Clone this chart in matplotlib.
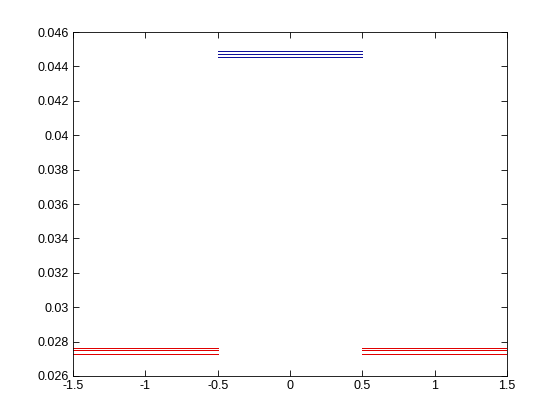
import matplotlib
matplotlib.use("Agg")
import matplotlib.pyplot as plt

# segments: (x_start, x_end) per group
red_segments = [(-1.5, -0.5), (0.5, 1.5)]
red_values = [0.02762, 0.02749, 0.02727]
blue_segments = [(-0.5, 0.5)]
blue_values = [0.04487, 0.04475, 0.04454]

xticks = [-1.5, -1, -0.5, 0, 0.5, 1, 1.5]
xtick_labels = ["-1.5", "-1", "-0.5", "0", "0.5", "1", "1.5"]
yticks = [0.026, 0.028, 0.03, 0.032, 0.034, 0.036, 0.038, 0.04, 0.042, 0.044, 0.046]
ytick_labels = ["0.026", "0.028", "0.03", "0.032", "0.034", "0.036", "0.038", "0.04", "0.042", "0.044", "0.046"]

plt.rcParams['font.family'] = ['Liberation Sans', 'DejaVu Sans']
fig = plt.figure(figsize=(5.6, 4.2), dpi=100)
ax = fig.add_axes([73/560, 1 - 376/420, (507-73)/560, (376-32)/420])

for (x0, x1) in red_segments:
    for v in red_values:
        ax.plot([x0, x1], [v, v], color='#e00000', lw=0.6, antialiased=False)
for (x0, x1) in blue_segments:
    for v in blue_values:
        ax.plot([x0, x1], [v, v], color='#10109a', lw=0.6, antialiased=False)

ax.set_xlim(-1.5, 1.5)
ax.set_ylim(0.026, 0.046)
ax.set_xticks(xticks)
ax.set_xticklabels(xtick_labels)
ax.set_yticks(yticks)
ax.set_yticklabels(ytick_labels)
ax.tick_params(direction='in', length=4, labelsize=9, top=True, right=True,
               labeltop=False, labelright=False, width=0.6, pad=3)
for s in ax.spines.values():
    s.set_linewidth(0.6)

fig.savefig("out.png", dpi=100)
